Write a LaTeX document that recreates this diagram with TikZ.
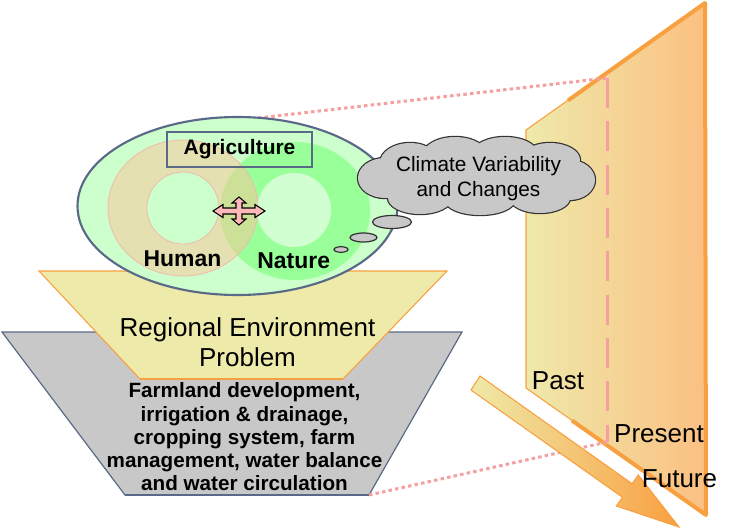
\documentclass[tikz,border=0pt]{standalone}
\usepackage{fontspec}
\setmainfont{Liberation Sans}

\definecolor{ecoGreen}{RGB}{204,255,204}
\definecolor{innerGreen}{RGB}{210,255,210}
\definecolor{natureGreen}{RGB}{153,255,153}
\definecolor{humanTan}{RGB}{255,195,152}
\definecolor{ringPink}{RGB}{240,185,175}
\definecolor{ecoEdge}{RGB}{90,105,135}
\definecolor{baseGray}{RGB}{200,200,200}
\definecolor{regionYellow}{RGB}{238,234,170}
\definecolor{edgeOrange}{RGB}{248,160,64}
\definecolor{panelYellow}{RGB}{238,233,170}
\definecolor{panelOrange}{RGB}{251,192,130}
\definecolor{arrowYellow}{RGB}{238,234,168}
\definecolor{arrowOrange}{RGB}{250,160,64}
\definecolor{linkPink}{RGB}{245,160,160}
\definecolor{cloudGray}{RGB}{200,200,200}
\definecolor{cloudEdge}{RGB}{50,50,50}
\definecolor{arrowPink}{RGB}{255,185,185}

\newcommand{\cloudpuffs}{477/177/100/28, 410/163/30/20, 455/155/32/18, 505/153/32/16, 550/160/30/17,
  385/178/27/20, 570/180/25/20, 420/198/32/16, 480/200/35/15, 540/198/30/15}

\begin{document}
\begin{tikzpicture}[x=0.75pt,y=-0.75pt,
txt/.style={font=\fontsize{19.5}{22.5}\selectfont, align=center, inner sep=0pt},
bold/.style={font=\fontsize{15.5}{17.4}\selectfont\bfseries, align=center, inner sep=0pt},
timelabel/.style={font=\fontsize{19.5}{22}\selectfont, inner sep=0pt},
link/.style={draw=linkPink, line width=2.25pt, dash pattern=on 2.6pt off 2.4pt},
bubble/.style={draw=cloudEdge, fill=cloudGray, line width=0.9pt}]
\useasboundingbox (0,0) rectangle (729,529);
\coordinate (ecoTop) at (258,118);
\coordinate (pastTop) at (607,78);
\coordinate (baseEnd) at (369,495);
\coordinate (presentMark) at (607,442);
% base and regional problem
\filldraw[fill=baseGray, draw=ecoEdge, line width=0.9pt] (2,332) -- (462,332) -- (369,495) -- (125,495) -- cycle;
\draw[ecoEdge, line width=2pt] (125,495) -- (baseEnd);
\filldraw[fill=regionYellow, draw=edgeOrange, line width=0.8pt] (39,271) -- (447,271) -- (343,379) -- (140,379) -- cycle;
\draw[edgeOrange, line width=2pt] (140,379) -- (343,379);
% time plane
\shadedraw[left color=panelYellow, right color=panelOrange, draw=edgeOrange, line width=0.8pt]
  (526,130) -- (705,3) -- (706,515) -- (526,388) -- cycle;
\draw[edgeOrange, line width=3pt, line join=round] (568,100.5) -- (705,3) -- (706,515) -- (572,420.5);
\draw[linkPink, line width=2.25pt, dash pattern=on 22.5pt off 10pt] (pastTop) -- (presentMark);
\draw[link] (ecoTop) -- (pastTop);
\draw[link] (baseEnd) -- (presentMark);
\shadedraw[left color=arrowYellow, right color=arrowOrange, draw=edgeOrange, line width=0.8pt]
  (480,376) -- (632.1,483.7) -- (638.3,475) -- (679,527) -- (616.3,506) -- (622.5,497.3) -- (471,390) -- cycle;
% agriculture ellipse
\filldraw[fill=ecoGreen, draw=ecoEdge, line width=1.6pt] (237.5,206) ellipse [x radius=160, y radius=89];
\fill[natureGreen] (295,211) ellipse [x radius=75, y radius=69];
\filldraw[fill=humanTan, fill opacity=0.5, draw=ringPink, line width=0.6pt] (183,208) ellipse [x radius=75, y radius=68];
\filldraw[fill=ecoGreen, draw=ringPink, line width=0.6pt] (183,208) circle [radius=36];
\fill[innerGreen] (294,210) circle [radius=37];
\node[draw=ecoEdge, line width=0.8pt, minimum width=108.75pt, minimum height=26.25pt, inner sep=0pt,
  font=\fontsize{15.7}{18}\selectfont\bfseries] (agri) at (239.5,149.5) {Agriculture};
\filldraw[fill=arrowPink, draw=black, line width=0.8pt, shift={(239,211)}]
  (26,0) -- (16,-6.5) -- (16,-3) -- (3,-3) -- (3,-8) -- (7,-8) -- (0,-14) -- (-7,-8) -- (-3,-8) -- (-3,-3)
  -- (-16,-3) -- (-16,-6.5) -- (-26,0) -- (-16,6.5) -- (-16,3) -- (-3,3) -- (-3,8) -- (-7,8) -- (0,14)
  -- (7,8) -- (3,8) -- (3,3) -- (16,3) -- (16,6.5) -- cycle;
\node[font=\fontsize{17.2}{20}\selectfont\bfseries, inner sep=0pt] (human) at (182.5,258.5) {Human};
\node[font=\fontsize{17.2}{20}\selectfont\bfseries, inner sep=0pt] (nature) at (293.7,261) {Nature};
% climate cloud
\filldraw[bubble] (341,249.5) ellipse [x radius=7, y radius=2.8];
\filldraw[bubble] (363.5,237.5) ellipse [x radius=13.5, y radius=4.5];
\filldraw[bubble] (392,222) ellipse [x radius=19.5, y radius=6.5];
\foreach \cx/\cy/\rx/\ry in \cloudpuffs
  \draw[cloudEdge, line width=1.8pt] (\cx,\cy) ellipse [x radius=\rx, y radius=\ry];
\foreach \cx/\cy/\rx/\ry in \cloudpuffs
  \fill[cloudGray] (\cx,\cy) ellipse [x radius=\rx, y radius=\ry];
\node[align=center, inner sep=0pt, font=\fontsize{15.6}{18.75}\selectfont] (climate) at (478.5,179) {Climate Variability\\and Changes};
% texts
\node[txt] (region) at (247.5,342) {Regional Environment\\Problem};
\node[bold] (practice) at (244.5,437) {Farmland development,\\irrigation \& drainage,\\cropping system, farm\\management, water balance\\and water circulation};
\node[timelabel] (past) at (558,381) {Past};
\node[timelabel] (present) at (659,434) {Present};
\node[timelabel] (future) at (679.5,478.5) {Future};
\end{tikzpicture}
\end{document}
